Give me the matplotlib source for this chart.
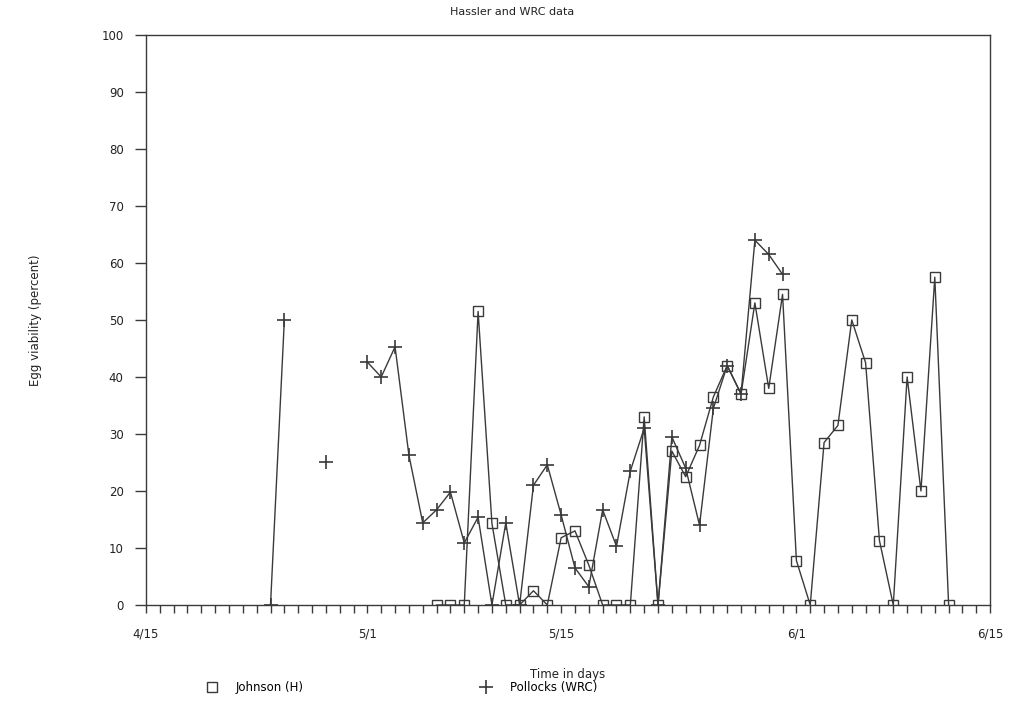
import matplotlib
matplotlib.use('Agg')
import matplotlib.pyplot as plt
from matplotlib.lines import Line2D
import numpy as np

# 날짜 = 4/15 이후 경과일
johnson_days = list(range(21, 59))
johnson_vals = [0, 0, 0, 51.5, 14.3, 0, 0, 2.5, 0, 11.8,
                13, 7, 0, 0, 0, 33, 0, 27, 22.5, 28,
                36.5, 42, 37, 53, 38, 54.5, 7.8, 0, 28.5, 31.5,
                50, 42.5, 11.3, 0, 40, 20, 57.5, 0]

# None = 선이 끊기는 구간
pollocks_days = [9, 10, 11, 13, 14] + list(range(16, 47))
pollocks_vals = [0, 50, None, 25, None,
                 42.6, 40, 45.3, 26.3, 14.4, 16.7, 19.8, 10.9, 15.4, 0,
                 14.4, 0, 21, 24.6, 15.8, 6.5, 3.2, 16.7, 10.3, 23.5,
                 31, 0, 29.5, 24, 14, 34.5, 42, 37, 64, 61.5, 58]

tick_days = [0, 16, 30, 47, 61]
tick_labels = ['4/15', '5/1', '5/15', '6/1', '6/15']

ink = '#3a3a3a'
plt.rcParams['font.family'] = ['DejaVu Sans']

fig = plt.figure(figsize=(10.25, 7.08), dpi=100)
ax = fig.add_axes([0.1424, 0.1455, 0.8236, 0.8051])

jv = np.array(johnson_vals, dtype=float)
pv = np.array([np.nan if v is None else v for v in pollocks_vals], dtype=float)

ax.plot(johnson_days, jv, color=ink, lw=1.0, marker='s', ms=7,
        mfc='none', mec=ink, mew=1.0)
ax.plot(pollocks_days, pv, color=ink, lw=1.0, marker='+', ms=10,
        mec=ink, mew=1.2)

ax.set_xlim(0, 61)
ax.set_ylim(0, 100)
ax.set_yticks(range(0, 101, 10))
ax.set_xticks(tick_days)
ax.set_xticklabels(tick_labels)
ax.set_xticks(range(0, 62), minor=True)

for s in ax.spines.values():
    s.set_color(ink)
    s.set_linewidth(1.0)
ax.tick_params(axis='both', which='both', direction='out', colors=ink,
               labelcolor='#222222', labelsize=8.5)
ax.tick_params(axis='x', which='both', length=6, width=1.0, pad=10)
ax.tick_params(axis='y', length=8, width=1.0, pad=8)

ax.set_xlabel('Time in days', fontsize=8.5, color='#222222', labelpad=20)
ax.set_ylabel('Egg viability (percent)', fontsize=8.5, color='#222222',
              labelpad=43)
fig.text(0.5, 1 - 12 / 708, 'Hassler and WRC data', ha='center', va='center',
         fontsize=8, color='#222222')

handles = [Line2D([], [], ls='none', marker='s', ms=7, mfc='none', mec=ink),
           Line2D([], [], ls='none', marker='+', ms=10, mec=ink, mew=1.2)]
fig.legend(handles, ['Johnson (H)', 'Pollocks (WRC)'], loc='center left',
           bbox_to_anchor=(195 / 1025, 1 - 688 / 708), ncol=2, frameon=False,
           fontsize=8.5, handlelength=1.0, handletextpad=1.5,
           columnspacing=15)

plt.savefig('out.png', dpi=100)
